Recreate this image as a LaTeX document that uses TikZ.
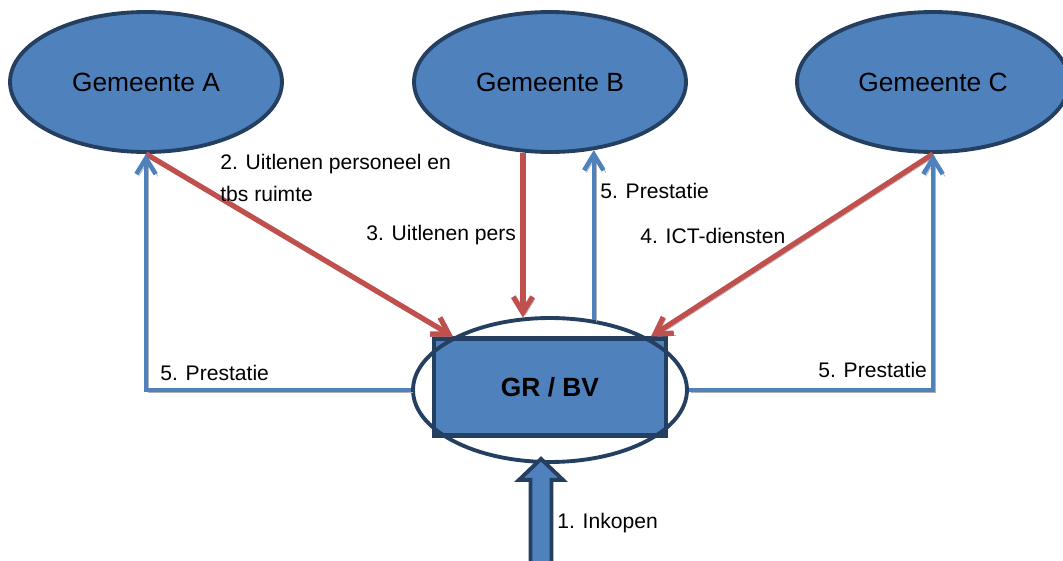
\documentclass[tikz,border=0pt]{standalone}
\usepackage{fontspec}
\setmainfont{Liberation Sans}
\usetikzlibrary{calc}
\usetikzlibrary{arrows.meta}
\usetikzlibrary{shapes}
\usetikzlibrary{shapes.geometric}
\definecolor{gemblue}{HTML}{4F81BD}
\definecolor{gemnavy}{HTML}{243F60}
\definecolor{levred}{HTML}{C0504D}
\tikzset{>=Straight Barb}
\tikzstyle{gem} = [ellipse, draw=gemnavy, line width=2.2pt, fill=gemblue, minimum width=5.44cm, minimum height=2.8cm, inner sep=0, font=\fontsize{15}{18}\selectfont]
\tikzstyle{lev} = [-{Straight Barb[length=9pt,width=11pt]}, line width=3pt, draw=levred, preaction={draw=gray!60, transform canvas={xshift=1.3pt, yshift=-1.3pt}}]
\tikzstyle{prest} = [-{Straight Barb[length=9pt,width=11pt]}, line width=2.6pt, draw=gemblue, preaction={draw=gray!60, transform canvas={xshift=1.3pt, yshift=-1.3pt}}]
\tikzstyle{lbl} = [draw=none, inner sep=0, anchor=west, align=left, font=\fontsize{12}{18}\selectfont]

\begin{document}
\begin{tikzpicture}[x=0.02cm, y=-0.02cm]
\useasboundingbox (0,0) rectangle (1063,561);
%\node [draw=none] at (550,20) {Samenwerking};
\node [gem] (A) at (146,82) {Gemeente A};
\node [gem] (B) at (550,82) {Gemeente B};
\node [gem] (C) at (933,82) {Gemeente C};
\node [draw=gemnavy, line width=2.3pt, fill=gemblue, minimum width=4.64cm, minimum height=1.94cm, inner sep=0, font=\fontsize{15}{18}\selectfont\bfseries] (gr) at (550,387) {GR / BV};
\node [ellipse, draw=gemnavy, line width=2.2pt, minimum width=5.48cm, minimum height=2.88cm, inner sep=0] (gre) at (550,390) {};
% leveringen
\draw [lev] (A.south) to ([xshift=0.42cm]gr.north west);
\draw [lev] (B.-111.5) to (B.-111.5 |- gre.111);
\draw [lev] (C.south) to ([xshift=-0.34cm]gr.north east);
% prestaties
\draw [prest] (gre.west) -| (A.south);
\draw [prest] (gre.58) -- (gre.58 |- B.-57);
\draw [prest] (gre.east) -| (C.south);
% inkopen
\coordinate (ink) at ([shift={(-0.18cm,0.1cm)}]gre.south);
\draw [gemnavy, line width=2.2pt, fill=gemblue] (ink) -- ++(22,21) -- ++(-11.5,0) -- ++(0,110) -- ++(-21,0) -- ++(0,-110) -- ++(-11.5,0) -- cycle;
\node [lbl] (l1) at (557,523) {1. Inkopen};
\node [lbl] (l2) at (220,178) {2. Uitlenen personeel en\\tbs ruimte};
\node [lbl] (l3) at (366,235) {3. Uitlenen pers};
\node [lbl] (l4) at (640,236) {4. ICT-diensten};
\node [lbl] (l5a) at (160,373) {5. Prestatie};
\node [lbl] (l5b) at (600,191) {5. Prestatie};
\node [lbl] (l5c) at (818,370) {5. Prestatie};
\end{tikzpicture}
\end{document}
